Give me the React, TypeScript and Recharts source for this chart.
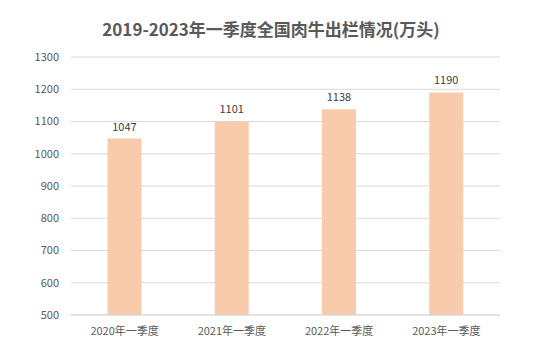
import { BarChart, Bar, XAxis, YAxis, CartesianGrid, LabelList } from "recharts";

const categories = ["2020年一季度", "2021年一季度", "2022年一季度", "2023年一季度"];
const cattleOut = [1047, 1101, 1138, 1190];
const yTicks = [500, 600, 700, 800, 900, 1000, 1100, 1200, 1300];

const data = categories.map((name, i) => ({ name, value: cattleOut[i] }));

const FONT = '"Noto Sans CJK SC", "Microsoft YaHei", sans-serif';

export default function App() {
  return (
    <div
      style={{
        position: "absolute",
        left: 0,
        top: 0,
        width: 560,
        height: 353,
        background: "#fff",
        fontFamily: FONT,
      }}
    >
      <div
        style={{
          position: "absolute",
          top: 16,
          left: 0,
          width: 542,
          textAlign: "center",
          fontSize: 17,
          fontWeight: "bold",
          color: "#595959",
        }}
      >
        2019-2023年一季度全国肉牛出栏情况(万头)
      </div>
      <BarChart
        width={560}
        height={353}
        data={data}
        margin={{ top: 57, right: 60, bottom: 8, left: 0 }}
        barCategoryGap="34%"
      >
        <CartesianGrid vertical={false} stroke="#D9D9D9" />
        <XAxis
          dataKey="name"
          axisLine={{ stroke: "#D9D9D9" }}
          tickLine={false}
          tickSize={0}
          tickMargin={12}
          height={30}
          tick={{ fontSize: 11, fill: "#595959", fontFamily: FONT }}
        />
        <YAxis
          domain={[500, 1300]}
          ticks={yTicks}
          width={71}
          axisLine={false}
          tickLine={false}
          tickSize={0}
          tickMargin={12}
          tick={{ fontSize: 11, fill: "#595959", fontFamily: FONT }}
        />
        <Bar dataKey="value" fill="#F8CBAD" isAnimationActive={false}>
          <LabelList
            dataKey="value"
            position="top"
            offset={8}
            style={{ fontSize: 11, fill: "#404040", fontFamily: FONT }}
          />
        </Bar>
      </BarChart>
    </div>
  );
}
